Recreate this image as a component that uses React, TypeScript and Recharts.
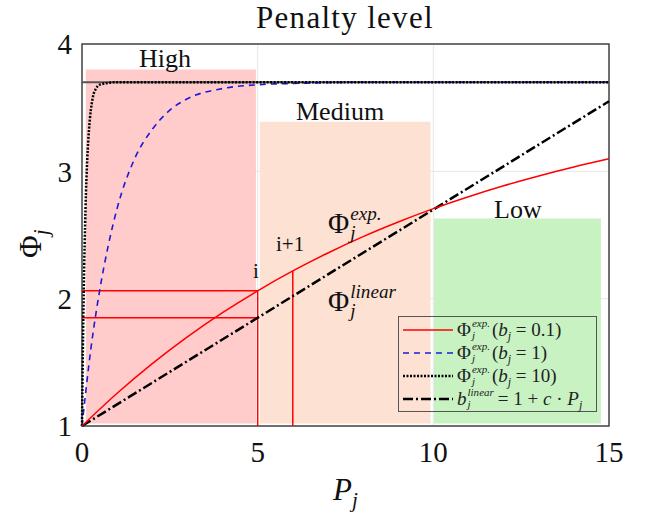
import React from "react";
import {
    LineChart,
    Line,
    XAxis,
    YAxis,
    CartesianGrid,
    ReferenceArea,
    ReferenceLine,
} from "recharts";

// penalty curves
const pSlow = [0, 1, 2, 3, 4, 5, 6, 7, 8, 9, 10, 11, 12, 13, 14, 15];
const phiSlow = [1.0, 1.257, 1.49, 1.7, 1.89, 2.062, 2.218, 2.359, 2.487, 2.602, 2.707, 2.801, 2.887, 2.964, 3.034, 3.098];

const pMid = [0, 0.25, 0.5, 0.75, 1, 1.5, 2, 2.5, 3, 4, 5, 6, 8, 10, 15];
const phiMid = [1.0, 1.6, 2.06, 2.42, 2.71, 3.1, 3.33, 3.48, 3.57, 3.65, 3.68, 3.69, 3.7, 3.7, 3.7];

const pFast = [0, 0.025, 0.05, 0.1, 0.15, 0.2, 0.3, 0.4, 0.5, 1, 15];
const phiFast = [1.0, 1.6, 2.06, 2.71, 3.1, 3.33, 3.57, 3.65, 3.68, 3.7, 3.7];

const pLinear = [0, 5, 10, 15];
const phiLinear = [1.0, 1.85, 2.7, 3.55];

const phiMax = 3.7;

// penalty level bands
const bandNames = ["High", "Medium", "Low"];
const bandStart = [0.11, 5.06, 10.02];
const bandEnd = [4.95, 9.92, 14.77];
const bandTop = [3.8, 3.39, 2.63];
const bandFloor = 1.02;

// i / i+1 markers
const markerP = [5, 6];
const markerExp = [2.062, 2.218];
const markerLinear = 1.85;

const xTicks = [0, 5, 10, 15];
const yTicks = [1, 2, 3, 4];

const legendB = ["0.1", "1", "10"];

const toRows = (ps: number[], vs: number[]) => ps.map((p, i) => ({ p, v: vs[i] }));

const bandColors = ["#ffcbcb", "#fde2d3", "#c8f2c2"];
const serif = "'Liberation Serif', 'DejaVu Serif', serif";

function Sym({ base, sup, sub, size, ratio = 0.66, italicBase }: { base: string; sup: string; sub: string; size: number; ratio?: number; italicBase?: boolean }) {
    return (
        <span style={{ display: "inline-flex", alignItems: "center", fontSize: size, lineHeight: 1 }}>
            <span style={{ fontStyle: italicBase ? "italic" : "normal" }}>{base}</span>
            <span
                style={{
                    display: "inline-flex",
                    flexDirection: "column",
                    fontSize: size * ratio,
                    fontStyle: "italic",
                    lineHeight: 1,
                    marginLeft: 1,
                }}
            >
                <span>{sup}</span>
                <span>{sub}</span>
            </span>
        </span>
    );
}

function Swatch({ color, dash, width }: { color: string; dash?: string; width: number }) {
    return (
        <svg width={50} height={10} style={{ marginRight: 4, flex: "none" }}>
            <line x1={0} y1={5} x2={50} y2={5} stroke={color} strokeWidth={width} strokeDasharray={dash} />
        </svg>
    );
}

export default function App() {
    const label = (x: number, y: number, size: number, content: React.ReactNode, extra: any = {}) => (
        <div
            style={{
                position: "absolute",
                left: x,
                top: y,
                fontSize: size,
                fontFamily: serif,
                color: "#111",
                lineHeight: 1,
                whiteSpace: "nowrap",
                ...extra,
            }}
        >
            {content}
        </div>
    );

    const legendStyles = [
        { c: "#ff0000", d: undefined, w: 1.5 },
        { c: "#1c1cd8", d: "6 5", w: 1.6 },
        { c: "#000", d: "2 1.5", w: 2.5 },
    ];

    return (
        <div style={{ position: "absolute", left: 0, top: 0, width: 648, height: 513, background: "#fff", fontFamily: serif }}>
            <LineChart width={648} height={513} margin={{ top: 44, right: 39, bottom: 5, left: 0 }}>
                <CartesianGrid stroke="#e6e6e6" />
                <XAxis
                    type="number"
                    dataKey="p"
                    domain={[0, 15]}
                    ticks={xTicks}
                    height={82}
                    axisLine={false}
                    tickLine={false}
                    tickSize={0}
                    tickMargin={15}
                    tick={{ fontSize: 29, fill: "#111", fontFamily: serif }}
                    allowDuplicatedCategory={false}
                />
                <YAxis
                    type="number"
                    domain={[1, 4]}
                    ticks={yTicks}
                    width={82}
                    axisLine={false}
                    tickLine={false}
                    tickSize={0}
                    tickMargin={10}
                    tick={{ fontSize: 29, fill: "#111", fontFamily: serif }}
                />
                {bandNames.map((name, i) => (
                    <ReferenceArea
                        key={name}
                        x1={bandStart[i]}
                        x2={bandEnd[i]}
                        y1={bandFloor}
                        y2={bandTop[i]}
                        fill={bandColors[i]}
                        fillOpacity={1}
                        stroke="none"
                    />
                ))}
                <ReferenceLine y={phiMax} stroke="#555" strokeWidth={2} />
                <ReferenceLine
                    segment={[{ x: 0, y: markerExp[0] }, { x: markerP[0], y: markerExp[0] }]}
                    stroke="#ff0000"
                    strokeWidth={1.5}
                />
                <ReferenceLine
                    segment={[{ x: 0, y: markerLinear }, { x: markerP[0], y: markerLinear }]}
                    stroke="#ff0000"
                    strokeWidth={1.5}
                />
                {markerP.map((p, i) => (
                    <ReferenceLine
                        key={p}
                        segment={[{ x: p, y: 1 }, { x: p, y: markerExp[i] }]}
                        stroke="#ff0000"
                        strokeWidth={1.5}
                    />
                ))}
                <Line data={toRows(pMid, phiMid)} dataKey="v" type="monotone" stroke="#1c1cd8" strokeWidth={1.6} strokeDasharray="6 5" dot={false} isAnimationActive={false} />
                <Line data={toRows(pFast, phiFast)} dataKey="v" type="monotone" stroke="#000" strokeWidth={2.5} strokeDasharray="2 1.5" dot={false} isAnimationActive={false} />
                <Line data={toRows(pLinear, phiLinear)} dataKey="v" type="linear" stroke="#000" strokeWidth={2.5} strokeDasharray="10 3 2 3" dot={false} isAnimationActive={false} />
                <Line data={toRows(pSlow, phiSlow)} dataKey="v" type="monotone" stroke="#ff0000" strokeWidth={1.5} dot={false} isAnimationActive={false} />
                <ReferenceArea x1={0} x2={15} y1={1} y2={4} fill="none" stroke="#444" strokeWidth={1.5} />
            </LineChart>

            {/* title and axis labels */}
            {label(256, 2, 31, "Penalty level", { letterSpacing: 1.3 })}
            {label(333, 474, 31, (
                <span>
                    <i>P</i>
                    <i style={{ fontSize: 21, position: "relative", top: 7 }}>j</i>
                </span>
            ))}
            {label(15, 258, 31, (
                <span>
                    Φ<i style={{ fontSize: 21, position: "relative", top: 7 }}>j</i>
                </span>
            ), { transform: "rotate(-90deg)", transformOrigin: "0 0" })}

            {/* band names */}
            {label(139, 46, 26, bandNames[0])}
            {label(296, 99, 26, bandNames[1])}
            {label(494, 197, 26, bandNames[2])}

            {/* curve annotations */}
            {label(253, 261, 21, "i")}
            {label(276, 234, 21, "i+1")}
            {label(328, 204, 29, <Sym base="Φ" sup="exp." sub="j" size={29} />)}
            {label(328, 282, 29, <Sym base="Φ" sup="linear" sub="j" size={29} />)}

            {/* legend */}
            <div
                style={{
                    position: "absolute",
                    left: 398,
                    top: 316,
                    width: 199,
                    height: 96,
                    border: "1px solid #555",
                    fontFamily: serif,
                    fontSize: 19,
                    color: "#222",
                    padding: "1px 0 0 4px",
                    boxSizing: "border-box",
                    lineHeight: 1,
                }}
            >
                {legendB.map((b, i) => (
                    <div key={b} style={{ display: "flex", alignItems: "center", height: 23 }}>
                        <Swatch color={legendStyles[i].c} dash={legendStyles[i].d} width={legendStyles[i].w} />
                        <Sym base="Φ" sup="exp." sub="j" size={19} ratio={0.58} />
                        <span style={{ marginLeft: 2 }}>
                            (<i>b</i>
                            <i style={{ fontSize: 12, position: "relative", top: 4 }}>j</i> = {b})
                        </span>
                    </div>
                ))}
                <div style={{ display: "flex", alignItems: "center", height: 23 }}>
                    <Swatch color="#000" dash="10 3 2 3" width={2.5} />
                    <Sym base="b" sup="linear" sub="j" size={19} ratio={0.58} italicBase />
                    <span style={{ marginLeft: 4 }}>
                        = 1 + <i>c</i> · <i>P</i>
                        <i style={{ fontSize: 12, position: "relative", top: 4 }}>j</i>
                    </span>
                </div>
            </div>
        </div>
    );
}
